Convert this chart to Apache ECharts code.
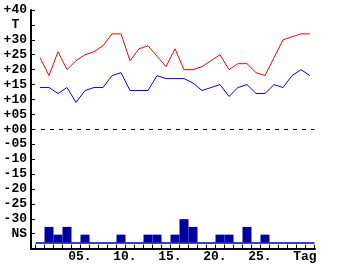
<!DOCTYPE html>
<html>
<head>
<meta charset="utf-8">
<script src="https://cdn.jsdelivr.net/npm/echarts@6/dist/echarts.min.js"></script>
<style>
html,body{margin:0;padding:0;background:#fff;}
#chart{width:340px;height:265px;}
</style>
</head>
<body>
<div id="chart"></div>
<script>
// Days of the month
var days = [];
for (var d = 1; d <= 31; d++) days.push(d);
// Category tick labels (shown at days 5,10,15,20,25,30)
var dayLabels = ['', '', '', '', '05.', '', '', '', '', '10.', '', '', '', '', '15.', '', '', '', '', '20.', '', '', '', '', '25.', '', '', '', '', 'Tag', ''];
// Max temperature (red)
var tMax = [24, 18, 26, 20, 23, 25, 26, 28, 32, 32, 23, 27, 28, 24.5, 21, 27, 20, 20, 21, 23, 25, 20, 22, 22, 19, 18, 24, 30, 31, 32, 32];
// Min temperature (blue)
var tMin = [14, 14, 12, 14, 9, 13, 14, 14, 18, 19, 13, 13, 13, 18, 17, 17, 17, 15.5, 13, 14, 15, 11, 14, 15, 12, 12, 15, 14, 18, 20, 18];
// Precipitation (NS) levels
var ns = [0, 2, 1, 2, 0, 1, 0, 0, 0, 1, 0, 0, 1, 1, 0, 1, 3, 2, 0, 0, 1, 1, 0, 2, 0, 1, 0, 0, 0, 0, 0];
// Y axis tick values and labels
var yTickValues = [40, 35, 30, 25, 20, 15, 10, 5, 0, -5, -10, -15, -20, -25, -30, -35, -40];
var yTickLabels = ['+40', ' T ', '+30', '+25', '+20', '+15', '+10', '+05', '+00', '-05', '-10', '-15', '-20', '-25', '-30', ' NS', ''];

var FONT = 'Liberation Mono';
var chart = echarts.init(document.getElementById('chart'), null, {renderer: 'canvas'});
var gridTop = 10, gridBottom = 16.4;
var option = {
  animation: false,
  backgroundColor: '#ffffff',
  grid: [
    {left: 35.5, width: 279, top: gridTop, bottom: gridBottom},
    {left: 31, width: 284, top: gridTop, bottom: gridBottom}
  ],
  xAxis: [
    {
      type: 'category', gridIndex: 0, data: days, boundaryGap: true,
      axisLine: {show: false, onZero: false},
      axisTick: {show: true, inside: true, length: 4, interval: 0, lineStyle: {color: '#000', width: 1}},
      axisLabel: {
        interval: 0, margin: 2, color: '#000', fontFamily: FONT, fontWeight: 'bold', fontSize: 13,
        padding: [0, 0, 0, 7.8],
        formatter: function (v, i) { return dayLabels[i]; }
      },
      splitLine: {show: false}
    },
    {
      type: 'value', gridIndex: 1, min: 0, max: 1,
      axisLine: {show: true, onZero: false, lineStyle: {color: '#000', width: 2}},
      axisTick: {show: false}, axisLabel: {show: false}, splitLine: {show: false}
    }
  ],
  yAxis: [
    {type: 'value', gridIndex: 0, min: -40, max: 40, show: false},
    {type: 'value', gridIndex: 0, min: -0.8, max: 30, show: false},
    {
      type: 'value', gridIndex: 1, min: -40, max: 40, interval: 5,
      axisLine: {show: true, onZero: false, lineStyle: {color: '#000', width: 2}},
      axisTick: {show: true, inside: true, length: 4, lineStyle: {color: '#000', width: 1}},
      axisLabel: {
        margin: 4, color: '#000', fontFamily: FONT, fontWeight: 'bold', fontSize: 13,
        formatter: function (v) {
          var i = yTickValues.indexOf(v);
          return i >= 0 ? yTickLabels[i] : '';
        }
      },
      splitLine: {show: false}
    }
  ],
  series: [
    {
      type: 'bar', xAxisIndex: 0, yAxisIndex: 1, data: ns,
      barWidth: '100%', barCategoryGap: '0%',
      itemStyle: {color: '#0000a0'},
      silent: true,
      markLine: {
        silent: true, symbol: 'none', label: {show: false},
        lineStyle: {color: '#0000a0', width: 1.5, type: 'solid'},
        data: [{yAxis: 0}]
      }
    },
    {
      type: 'line', xAxisIndex: 0, yAxisIndex: 0, data: tMax,
      showSymbol: false, symbol: 'none',
      lineStyle: {color: '#ff0000', width: 1},
      markLine: {
        silent: true, symbol: 'none', label: {show: false},
        lineStyle: {color: '#000', width: 1, type: [4, 5], dashOffset: 3.5},
        data: [{yAxis: 0}]
      }
    },
    {
      type: 'line', xAxisIndex: 0, yAxisIndex: 0, data: tMin,
      showSymbol: false, symbol: 'none',
      lineStyle: {color: '#0000ff', width: 1}
    }
  ]
};
chart.setOption(option);
</script>
</body>
</html>
